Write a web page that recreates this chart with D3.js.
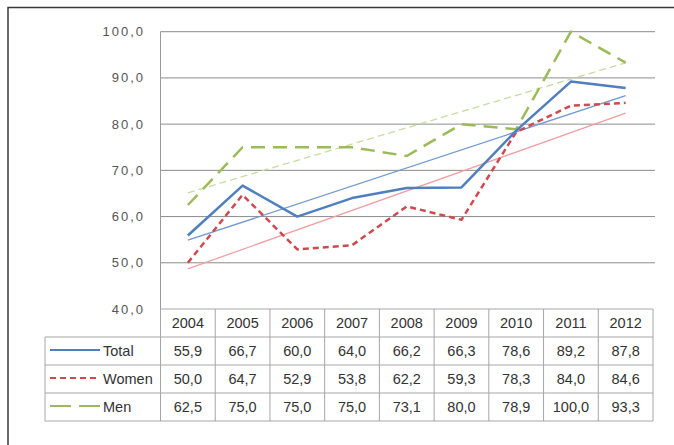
<!DOCTYPE html>
<html>
<head>
<meta charset="utf-8">
<script src="https://cdn.jsdelivr.net/npm/d3@7"></script>
<style>
  body { margin: 0; background: #fff; }
  text { font-family: "Liberation Sans", Arial, sans-serif; }
</style>
</head>
<body>
<div id="chart"></div>
<script>
// data
let years = ["2004", "2005", "2006", "2007", "2008", "2009", "2010", "2011", "2012"];
let total = [55.9, 66.7, 60.0, 64.0, 66.2, 66.3, 78.6, 89.2, 87.8];
let women = [50.0, 64.7, 52.9, 53.8, 62.2, 59.3, 78.3, 84.0, 84.6];
let men = [62.5, 75.0, 75.0, 75.0, 73.1, 80.0, 78.9, 100.0, 93.3];
let yTicks = [40, 50, 60, 70, 80, 90, 100];

let width = 674, height = 445;
let svg = d3.select("#chart").append("svg")
    .attr("width", width)
    .attr("height", height);

// outer frame (runs off right and bottom)
svg.append("rect")
    .attr("x", 8).attr("y", 7.5)
    .attr("width", 700).attr("height", 500)
    .attr("fill", "none")
    .attr("stroke", "#3a3a3a")
    .attr("stroke-width", 1.5);

let plotLeft = 160.5, plotRight = 653, plotTop = 31.7, plotBottom = 309;
let x = d3.scaleBand().domain(years).range([plotLeft, plotRight]);
let y = d3.scaleLinear().domain([40, 100]).range([plotBottom, plotTop]);

// gridlines
svg.append("g").selectAll("line")
    .data(yTicks.slice(1))
    .join("line")
    .attr("x1", plotLeft).attr("x2", plotRight + 2)
    .attr("y1", d => y(d)).attr("y2", d => y(d))
    .attr("stroke", "#8c8c8c")
    .attr("stroke-width", 1);

// y axis line
svg.append("line")
    .attr("x1", plotLeft).attr("x2", plotLeft)
    .attr("y1", plotTop).attr("y2", plotBottom)
    .attr("stroke", "#9a9a9a");

// y labels
svg.append("g").selectAll("text")
    .data(yTicks)
    .join("text")
    .attr("x", 145)
    .attr("y", d => y(d) + 4.5)
    .attr("text-anchor", "end")
    .attr("font-size", 13)
    .attr("letter-spacing", 2)
    .attr("fill", "#555")
    .text(d => d.toFixed(1).replace(".", ","));

let series = [
    { name: "Total", values: total, color: "#4f7fbf", dash: null, legendDash: null,
      trendColor: "#6f98d0", trendDash: null },
    { name: "Women", values: women, color: "#cf4a4f", dash: "6,4", legendDash: "6,4",
      trendColor: "#f0a0a4", trendDash: null },
    { name: "Men", values: men, color: "#9bbb59", dash: "14,8", legendDash: "21,8",
      trendColor: "#c8dca0", trendDash: "7,4" }
];

let cx = (d, i) => x(years[i]) + x.bandwidth() / 2;

// linear trendlines (least squares over the year index)
series.forEach(s => {
    let n = s.values.length;
    let mx = d3.mean(d3.range(n)), my = d3.mean(s.values);
    let sxy = d3.sum(s.values, (v, i) => (i - mx) * (v - my));
    let sxx = d3.sum(d3.range(n), i => (i - mx) * (i - mx));
    let b = sxy / sxx, a = my - b * mx;
    let pts = [0, n - 1].map(i => [x(years[i]) + x.bandwidth() / 2, y(a + b * i)]);
    svg.append("path")
        .attr("d", d3.line()(pts))
        .attr("fill", "none")
        .attr("stroke", s.trendColor)
        .attr("stroke-width", 1.3)
        .attr("stroke-dasharray", s.trendDash);
});

let line = d3.line().x(cx).y(d => y(d));
series.slice().reverse().forEach(s => {
    svg.append("path")
        .attr("d", line(s.values))
        .attr("fill", "none")
        .attr("stroke", s.color)
        .attr("stroke-width", 2.5)
        .attr("stroke-dasharray", s.dash)
        .attr("stroke-linejoin", "round");
});

// data table
let rowH = 28;
let tableLeft = 45;
let tg = svg.append("g");
let gridColor = "#a6a6a6";
let fs = 14.5;

tg.append("line").attr("x1", plotLeft).attr("x2", plotRight).attr("y1", plotBottom).attr("y2", plotBottom)
    .attr("stroke", gridColor);
for (let r = 1; r <= 4; r++) {
    tg.append("line")
        .attr("x1", tableLeft).attr("x2", plotRight)
        .attr("y1", plotBottom + r * rowH).attr("y2", plotBottom + r * rowH)
        .attr("stroke", gridColor);
}
tg.append("line").attr("x1", tableLeft).attr("x2", tableLeft)
    .attr("y1", plotBottom + rowH).attr("y2", plotBottom + 4 * rowH).attr("stroke", gridColor);
years.forEach(yr => {
    tg.append("line").attr("x1", x(yr)).attr("x2", x(yr))
        .attr("y1", plotBottom).attr("y2", plotBottom + 4 * rowH).attr("stroke", gridColor);
});
tg.append("line").attr("x1", plotRight).attr("x2", plotRight)
    .attr("y1", plotBottom).attr("y2", plotBottom + 4 * rowH).attr("stroke", gridColor);

tg.selectAll("text.year")
    .data(years)
    .join("text")
    .attr("class", "year")
    .attr("x", d => x(d) + x.bandwidth() / 2)
    .attr("y", plotBottom + rowH / 2 + 5)
    .attr("text-anchor", "middle")
    .attr("font-size", fs)
    .attr("fill", "#333")
    .text(d => d);

series.forEach((s, r) => {
    let ry = plotBottom + (r + 1) * rowH + rowH / 2;
    tg.append("line")
        .attr("x1", 50).attr("x2", 100)
        .attr("y1", ry - 1).attr("y2", ry - 1)
        .attr("stroke", s.color)
        .attr("stroke-width", 2)
        .attr("stroke-dasharray", s.legendDash);
    tg.append("text")
        .attr("x", 103)
        .attr("y", ry + 5)
        .attr("font-size", fs)
        .attr("fill", "#333")
        .text(s.name);
    tg.selectAll("text.v" + r)
        .data(s.values)
        .join("text")
        .attr("class", "v" + r)
        .attr("x", (d, i) => x(years[i]) + x.bandwidth() / 2)
        .attr("y", ry + 5)
        .attr("text-anchor", "middle")
        .attr("font-size", fs)
        .attr("fill", "#333")
        .text(d => d.toFixed(1).replace(".", ","));
});
</script>
</body>
</html>
